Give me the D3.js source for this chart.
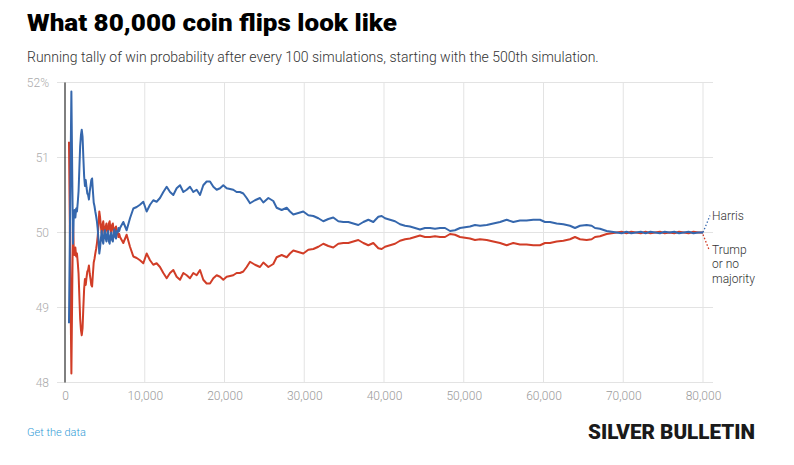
<!DOCTYPE html>
<html><head><meta charset="utf-8">
<script src="https://cdn.jsdelivr.net/npm/d3@7"></script>
<style>
body{margin:0;background:#fff}
text{font-family:Roboto,"Noto Sans",sans-serif}
</style></head>
<body><svg id="chart" width="794" height="465"></svg>
<script>
const sims = [500,600,700,800,900,1000,1100,1200,1300,1400,1500,1600,1700,1800,1900,2000,2100,2200,2300,2400,2500,2600,2700,2800,2900,3000,3100,3200,3300,3400,3500,3600,3700,3800,3900,4000,4100,4200,4300,4400,4500,4600,4700,4800,4900,5000,5100,5200,5300,5400,5500,5600,5700,5800,5900,6000,6100,6200,6300,6400,6500,6600,6700,6800,6900,
7310,7730,8150,8570,8990,9400,9820,10240,10660,11070,11490,11910,12330,12750,13170,13580,14000,14420,14840,15260,15670,16090,16510,16930,17340,17760,18180,18600,19020,19440,19850,20270,20690,21100,21520,21940,22360,22780,23200,
23820,24450,24870,25500,26120,26540,27170,27800,28210,28630,29260,29880,30510,31140,31770,32390,33020,33640,34270,34900,35530,36150,36780,37410,38040,38660,39290,39710,40130,40750,41380,42010,42640,43260,43890,44510,45140,45770,46400,47020,47650,48280,48900,49530,50160,50780,51410,52040,
52880,53700,54550,55380,56210,57050,57880,58720,59560,60190,60815,61650,62490,63320,63950,64580,65410,66040,66460,67080,67920,68550,69180,69800,70400,71000,71600,72200,72800,73400,74000,74600,75200,75800,76400,77000,77600,78200,78800,79400,80000];

const harris = [48.79,49.85,50.90,51.88,50.85,49.85,50.22,50.30,50.20,50.32,50.28,50.40,50.55,50.85,51.15,51.30,51.37,51.28,51.00,50.75,50.62,50.70,50.60,50.52,50.50,50.44,50.55,50.62,50.70,50.72,50.55,50.40,50.35,50.28,50.22,50.15,50.05,49.90,49.72,49.80,49.92,50.02,49.90,49.85,49.97,50.03,49.92,49.88,49.98,50.02,49.88,49.85,49.96,50.00,49.90,49.88,49.98,50.04,49.94,49.92,50.02,50.00,50.06,50.02,50.06,
50.14,50.03,50.19,50.32,50.34,50.37,50.41,50.28,50.37,50.43,50.41,50.46,50.54,50.61,50.54,50.50,50.59,50.63,50.54,50.57,50.61,50.54,50.57,50.50,50.63,50.68,50.68,50.61,50.57,50.59,50.63,50.59,50.58,50.57,50.54,50.54,50.52,50.46,50.39,
50.43,50.46,50.40,50.46,50.42,50.33,50.30,50.33,50.28,50.24,50.26,50.28,50.23,50.22,50.19,50.15,50.18,50.20,50.15,50.14,50.14,50.12,50.10,50.14,50.17,50.14,50.21,50.22,50.19,50.17,50.15,50.11,50.09,50.08,50.06,50.04,50.06,50.06,50.05,50.06,50.06,50.02,50.03,50.06,50.07,50.08,50.10,50.09,
50.10,50.12,50.14,50.17,50.14,50.16,50.16,50.17,50.17,50.14,50.14,50.12,50.11,50.09,50.06,50.09,50.10,50.09,50.06,50.05,50.02,50.01,50.00,49.99,50.01,49.99,50.00,50.01,49.99,50.01,50.00,49.99,50.01,50.00,50.01,49.99,50.00,50.01,49.99,50.00,50.00];

const trump = [51.21,50.15,49.10,48.12,49.15,50.15,49.78,49.70,49.80,49.68,49.72,49.60,49.45,49.15,48.85,48.70,48.63,48.72,49.00,49.25,49.38,49.30,49.40,49.48,49.50,49.56,49.45,49.38,49.30,49.28,49.45,49.60,49.65,49.72,49.78,49.85,49.95,50.10,50.28,50.20,50.08,49.98,50.10,50.15,50.03,49.97,50.08,50.12,50.02,49.98,50.12,50.15,50.04,50.00,50.10,50.12,50.02,49.96,50.06,50.08,49.98,50.00,49.94,49.98,49.94,
49.86,49.97,49.81,49.68,49.66,49.63,49.59,49.72,49.63,49.57,49.59,49.54,49.46,49.39,49.46,49.50,49.41,49.37,49.46,49.43,49.39,49.46,49.43,49.50,49.37,49.32,49.32,49.39,49.43,49.41,49.37,49.41,49.42,49.43,49.46,49.46,49.48,49.54,49.61,
49.57,49.54,49.60,49.54,49.58,49.67,49.70,49.67,49.72,49.76,49.74,49.72,49.77,49.78,49.81,49.85,49.82,49.80,49.85,49.86,49.86,49.88,49.90,49.86,49.83,49.86,49.79,49.78,49.81,49.83,49.85,49.89,49.91,49.92,49.94,49.96,49.94,49.94,49.95,49.94,49.94,49.98,49.97,49.94,49.93,49.92,49.90,49.91,
49.90,49.88,49.86,49.83,49.86,49.84,49.84,49.83,49.83,49.86,49.86,49.88,49.89,49.91,49.94,49.91,49.90,49.91,49.94,49.95,49.98,49.99,50.00,50.01,49.99,50.01,50.00,49.99,50.01,49.99,50.00,50.01,49.99,50.00,49.99,50.01,50.00,49.99,50.01,50.00,50.00];

const xTicks = [0,10000,20000,30000,40000,50000,60000,70000,80000];
const yTicks = [48,49,50,51,52];
const seriesNames = ["Harris", "Trump or no majority"];

const svg = d3.select("#chart");
const x = d3.scaleLinear().domain([0, 80000]).range([65, 703]);
const y = d3.scaleLinear().domain([48, 52]).range([382.5, 82.5]);

// title
svg.append("text").attr("x", 27).attr("y", 31)
  .attr("textLength", 370).attr("lengthAdjust", "spacingAndGlyphs")
  .style("font-size", "24px").style("font-weight", 900).attr("fill", "#000")
  .text("What 80,000 coin flips look like");
svg.append("text").attr("x", 27).attr("y", 62)
  .style("font-size", "14px").style("font-weight", 300).attr("fill", "#333")
  .text("Running tally of win probability after every 100 simulations, starting with the 500th simulation.");

// grid
const g = svg.append("g");
g.selectAll("line.h").data(yTicks).join("line")
  .attr("x1", 57).attr("x2", 713)
  .attr("y1", d => y(d)).attr("y2", d => y(d))
  .attr("stroke", "#e3e3e3").attr("stroke-width", 1);
g.selectAll("line.v").data(xTicks.slice(1)).join("line")
  .attr("x1", d => x(d)).attr("x2", d => x(d))
  .attr("y1", y(52)).attr("y2", y(48))
  .attr("stroke", "#e3e3e3").attr("stroke-width", 1);

// axes
const xAxis = d3.axisBottom(x).tickValues(xTicks).tickSize(0).tickPadding(9)
  .tickFormat(d3.format(","));
const ax = svg.append("g").attr("transform", `translate(0,${y(48)})`).call(xAxis);
ax.select(".domain").remove();
ax.selectAll("text").style("font-size", "12px").style("font-weight", 300)
  .style("font-family", "Roboto").attr("fill", "#9a9a9a");

const yAxis = d3.axisLeft(y).tickValues(yTicks).tickSize(0).tickPadding(16)
  .tickFormat(d => d === 52 ? "52%" : d);
const ay = svg.append("g").attr("transform", `translate(${x(0)},0)`).call(yAxis);
ay.select(".domain").remove();
ay.selectAll("text").style("font-size", "12px").style("font-weight", 300)
  .style("font-family", "Roboto").attr("fill", "#ababab");

// zero line
svg.append("line").attr("x1", x(0)).attr("x2", x(0))
  .attr("y1", y(52)).attr("y2", y(48)).attr("stroke", "#000").attr("stroke-width", 1);

// lines
const line = d3.line().x((d, i) => x(sims[i])).y(d => y(d));
svg.append("path").datum(trump).attr("d", line)
  .attr("fill", "none").attr("stroke", "#d13d27").attr("stroke-width", 2).attr("stroke-linejoin", "round");
svg.append("path").datum(harris).attr("d", line)
  .attr("fill", "none").attr("stroke", "#3567ad").attr("stroke-width", 2).attr("stroke-linejoin", "round");

// labels with dotted connectors
const last = sims.length - 1;
svg.append("line").attr("x1", x(sims[last])).attr("y1", y(harris[last]))
  .attr("x2", x(sims[last]) + 7).attr("y2", y(harris[last]) - 17)
  .attr("stroke", "#3567ad").attr("stroke-width", 1.3).attr("stroke-dasharray", "1.5,2");
svg.append("line").attr("x1", x(sims[last])).attr("y1", y(trump[last]) + 2)
  .attr("x2", x(sims[last]) + 6).attr("y2", y(trump[last]) + 17)
  .attr("stroke", "#d13d27").attr("stroke-width", 1.3).attr("stroke-dasharray", "1.5,2");

svg.append("text").attr("x", 712).attr("y", 220)
  .style("font-size", "12px").style("font-weight", 300).attr("fill", "#333").text(seriesNames[0]);
const tl = svg.append("text").attr("x", 712).attr("y", 254)
  .style("font-size", "12px").style("font-weight", 300).attr("fill", "#333");
["Trump", "or no", "majority"].forEach((w, i) => {
  tl.append("tspan").attr("x", 712).attr("dy", i === 0 ? 0 : 14.3).text(w);
});

// footer
svg.append("text").attr("x", 27).attr("y", 436)
  .style("font-size", "11px").style("font-weight", 300).attr("fill", "#2f9bd6").text("Get the data");
svg.append("text").attr("x", 588).attr("y", 439)
  .attr("textLength", 167).attr("lengthAdjust", "spacingAndGlyphs")
  .style("font-size", "20px").style("font-weight", 900).style("font-family", "Roboto")
  .attr("fill", "#1a1a1a").text("SILVER BULLETIN");
</script></body></html>
